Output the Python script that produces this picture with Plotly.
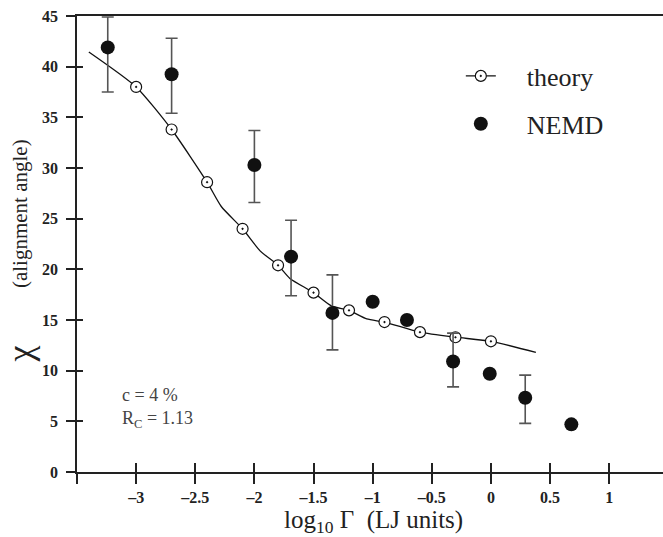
import plotly.graph_objects as go

# ---------------- data ----------------
theory_x = [-3.0, -2.7, -2.4, -2.1, -1.8, -1.5, -1.2, -0.9, -0.6, -0.3, 0.0]
theory_y = [38.0, 33.8, 28.6, 24.0, 20.4, 17.7, 15.95, 14.8, 13.8, 13.3, 12.9]

curve_x = [-3.40, -3.0, -2.7, -2.4, -2.28, -2.1, -1.95, -1.8, -1.7, -1.5, -1.35,
           -1.2, -1.05, -0.9, -0.6, -0.3, 0.0, 0.38]
curve_y = [41.45, 38.0, 33.8, 28.6, 26.2, 24.0, 21.8, 20.4, 19.1, 17.7, 16.4,
           15.95, 15.1, 14.8, 13.8, 13.3, 12.9, 11.8]

nemd_x = [-3.24, -2.70, -2.0, -1.69, -1.34, -1.0, -0.71, -0.32, -0.01, 0.29, 0.68]
nemd_y = [41.9, 39.25, 30.3, 21.25, 15.7, 16.8, 15.0, 10.9, 9.7, 7.33, 4.7]
nemd_err_plus = [3.0, 3.55, 3.4, 3.6, 3.75, None, None, 2.8, None, 2.23, None]
nemd_err_minus = [4.4, 3.85, 3.7, 3.85, 3.65, None, None, 2.5, None, 2.53, None]

x_tickvals = [-3.5, -3, -2.5, -2, -1.5, -1, -0.5, 0, 0.5, 1]
x_ticktext = ["", "–3", "–2.5", "–2", "–1.5", "–1", "–0.5", "0", "0.5", "1"]
y_tickvals = [0, 5, 10, 15, 20, 25, 30, 35, 40, 45]
y_ticktext = [str(v) for v in y_tickvals]

# ---------------- figure ----------------
SERIF = "Liberation Serif, Times New Roman, serif"
GAP = "\u00a0\u00a0\u00a0\u00a0"
fig = go.Figure()

fig.add_trace(go.Scatter(
    x=curve_x, y=curve_y, mode="lines", line=dict(color="#111", width=1.3, shape="spline", smoothing=0.6),
    showlegend=False, hoverinfo="skip"))
fig.add_trace(go.Scatter(
    x=theory_x, y=theory_y, mode="markers", showlegend=False,
    marker=dict(symbol="circle-dot", size=11, color="white", line=dict(color="#111", width=1.2))))
# legend proxy for theory
fig.add_trace(go.Scatter(
    x=[None], y=[None], mode="lines+markers", name=GAP + "theory", legendgroup="a",
    line=dict(color="#111", width=1.3),
    marker=dict(symbol="circle-dot", size=11, color="white", line=dict(color="#111", width=1.2))))
fig.add_trace(go.Scatter(
    x=nemd_x, y=nemd_y, mode="markers", name=GAP + "NEMD", legendgroup="b",
    marker=dict(symbol="circle", size=14, color="#111"),
    error_y=dict(type="data", symmetric=False, array=nemd_err_plus, arrayminus=nemd_err_minus,
                 color="#555", thickness=1.6, width=6)))

axis_common = dict(linecolor="#222", linewidth=1.5, tickcolor="#222", tickwidth=1.5,
                   showgrid=False, zeroline=False, automargin=False)

fig.update_layout(
    width=663, height=537,
    margin=dict(l=77, r=0, t=16, b=65, autoexpand=False),
    paper_bgcolor="white", plot_bgcolor="white",
    font=dict(family=SERIF, color="#222"),
    xaxis=dict(range=[-3.5, 1.455], tickvals=x_tickvals, ticktext=x_ticktext,
               ticks="outside", ticklen=10, showline=True, mirror=True,
               tickfont=dict(family=SERIF, size=16, color="#222", weight="bold"),
               ticklabelstandoff=0,
               **axis_common),
    xaxis2=dict(range=[-3.5, 1.455], tickvals=x_tickvals, ticktext=[""] * len(x_tickvals),
                ticks="inside", ticklen=9, overlaying="x", anchor="y", side="bottom",
                showline=False, tickcolor="#222", tickwidth=1.5, showgrid=False, zeroline=False,
                automargin=False),
    yaxis=dict(range=[0, 45], tickvals=y_tickvals, ticktext=y_ticktext,
               ticks="outside", ticklen=9, showline=True,
               tickfont=dict(family=SERIF, size=16, color="#222", weight="bold"),
               ticklabelstandoff=5,
               **axis_common),
    yaxis2=dict(range=[0, 45], tickvals=y_tickvals, ticktext=[""] * len(y_tickvals),
                ticks="inside", ticklen=6, overlaying="y", anchor="x", side="left",
                showline=False, tickcolor="#222", tickwidth=1.5, showgrid=False, zeroline=False,
                automargin=False),
    legend=dict(x=0.655, y=0.92, xanchor="left", yanchor="top", bgcolor="rgba(0,0,0,0)",
                font=dict(family=SERIF, size=26, color="#222"),
                traceorder="grouped", tracegroupgap=11),
    annotations=[
        dict(text="c = 4 %<br>R<sub>C</sub> = 1.13", xref="paper", yref="paper",
             x=0.073, y=0.14, xanchor="left", yanchor="middle", align="left", showarrow=False,
             font=dict(family=SERIF, size=18, color="#444")),
        dict(text="log<sub>10</sub> Γ  (LJ units)", xref="paper", yref="paper",
             x=0.506, y=-0.109, xanchor="center", yanchor="middle", showarrow=False,
             font=dict(family=SERIF, size=25, color="#222")),
        dict(text="(alignment angle)", xref="paper", yref="paper",
             x=-0.097, y=0.566, xanchor="center", yanchor="middle", textangle=-90, showarrow=False,
             font=dict(family=SERIF, size=21, color="#222")),
        dict(text="χ", xref="paper", yref="paper",
             x=-0.097, y=0.258, xanchor="center", yanchor="middle", textangle=-90, showarrow=False,
             font=dict(family=SERIF, size=36, color="#222")),
    ],
    showlegend=True,
)

# dummy trace to activate overlay axes
fig.add_trace(go.Scatter(x=[None], y=[None], xaxis="x2", yaxis="y2", showlegend=False, hoverinfo="skip"))

fig.write_html("out.html", config={"displayModeBar": False},
               post_script="document.body.style.margin='0';document.body.style.overflow='hidden';")
